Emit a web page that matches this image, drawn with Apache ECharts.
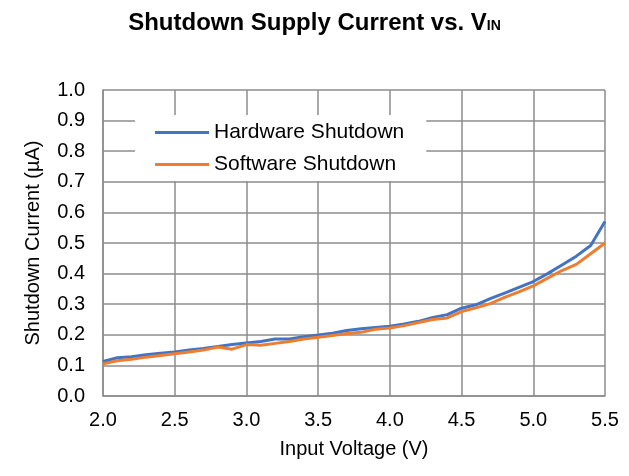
<!DOCTYPE html>
<html>
<head>
<meta charset="utf-8">
<script src="https://cdn.jsdelivr.net/npm/echarts@6/dist/echarts.min.js"></script>
<style>
  html, body { margin: 0; padding: 0; background: #fff; }
  #chart { width: 629px; height: 476px; }
</style>
</head>
<body>
<div id="chart"></div>
<script>
// input voltage (V)
const voltage = [2.0, 2.1, 2.2, 2.3, 2.4, 2.5, 2.6, 2.7, 2.8, 2.9,
  3.0, 3.1, 3.2, 3.3, 3.4, 3.5, 3.6, 3.7, 3.8, 3.9,
  4.0, 4.1, 4.2, 4.3, 4.4, 4.5, 4.6, 4.7, 4.8, 4.9,
  5.0, 5.1, 5.2, 5.3, 5.4, 5.5];
// shutdown current (uA)
const hardware = [0.113, 0.125, 0.128, 0.135, 0.140, 0.144, 0.150, 0.155, 0.162, 0.168,
  0.173, 0.178, 0.186, 0.186, 0.194, 0.199, 0.205, 0.214, 0.220, 0.224,
  0.228, 0.235, 0.244, 0.257, 0.266, 0.287, 0.298, 0.318, 0.336, 0.355,
  0.374, 0.400, 0.428, 0.457, 0.492, 0.570];
const software = [0.105, 0.115, 0.120, 0.127, 0.132, 0.138, 0.144, 0.150, 0.160, 0.153,
  0.168, 0.166, 0.172, 0.178, 0.186, 0.192, 0.198, 0.204, 0.208, 0.218,
  0.222, 0.230, 0.240, 0.250, 0.255, 0.276, 0.288, 0.302, 0.322, 0.340,
  0.360, 0.385, 0.410, 0.430, 0.465, 0.500];
const xTicks = { min: 2.0, max: 5.5, step: 0.5 };
const yTicks = { min: 0.0, max: 1.0, step: 0.1 };

const gridColor = '#8c8c8c';
const font = 'Liberation Sans, Arial, sans-serif';

const chart = echarts.init(document.getElementById('chart'));
const option = {
  animation: false,
  title: {
    text: '{a|Shutdown Supply Current vs. V}{b|IN}',
    left: 'center',
    top: 6,
    textStyle: {
      rich: {
        a: { fontFamily: font, fontSize: 24, fontWeight: 'bold', color: '#000' },
        b: { fontFamily: font, fontSize: 14, fontWeight: 'bold', color: '#000', padding: [6, 0, 0, 0] }
      }
    }
  },
  legend: {
    orient: 'vertical',
    left: 135,
    top: 115,
    padding: [7, 22, 6, 20],
    itemGap: 11,
    itemWidth: 54,
    itemHeight: 3,
    icon: 'rect',
    backgroundColor: '#fff',
    textStyle: { fontFamily: font, fontSize: 21, color: '#000' },
    data: ['Hardware Shutdown', 'Software Shutdown']
  },
  grid: { left: 103, right: 24, top: 90, bottom: 80 },
  xAxis: {
    type: 'value',
    min: xTicks.min,
    max: xTicks.max,
    interval: xTicks.step,
    name: 'Input Voltage (V)',
    nameLocation: 'middle',
    nameGap: 43,
    nameTextStyle: { fontFamily: font, fontSize: 20, color: '#000' },
    axisLine: { lineStyle: { color: gridColor, width: 1.5 } },
    axisTick: { show: false },
    axisLabel: { fontFamily: font, fontSize: 20, color: '#000', margin: 14,
      formatter: v => v.toFixed(1) },
    splitLine: { lineStyle: { color: gridColor, width: 1.5 } }
  },
  yAxis: {
    type: 'value',
    min: yTicks.min,
    max: yTicks.max,
    interval: yTicks.step,
    name: 'Shutdown Current (µA)',
    nameLocation: 'middle',
    nameGap: 60,
    nameTextStyle: { fontFamily: font, fontSize: 20, color: '#000' },
    axisLine: { show: true, lineStyle: { color: gridColor, width: 1.5 } },
    axisTick: { show: false },
    axisLabel: { fontFamily: font, fontSize: 20, color: '#000', margin: 18,
      formatter: v => v.toFixed(1) },
    splitLine: { lineStyle: { color: gridColor, width: 1.5 } }
  },
  series: [
    {
      name: 'Hardware Shutdown',
      type: 'line',
      data: voltage.map((v, i) => [v, hardware[i]]),
      showSymbol: false,
      color: '#4472C4',
      lineStyle: { width: 3 },
      z: 2
    },
    {
      name: 'Software Shutdown',
      type: 'line',
      data: voltage.map((v, i) => [v, software[i]]),
      showSymbol: false,
      color: '#ED7D31',
      lineStyle: { width: 3 },
      z: 3
    }
  ]
};
chart.setOption(option);
</script>
</body>
</html>
